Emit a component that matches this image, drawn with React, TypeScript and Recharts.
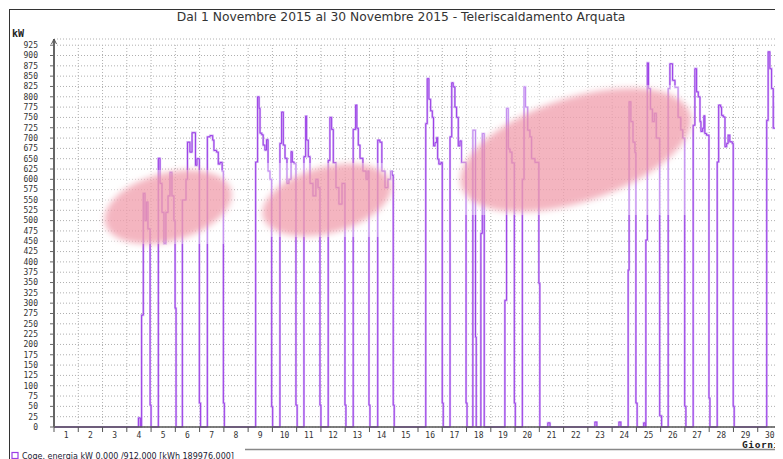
import React from 'react';
import { LineChart, Line, XAxis, YAxis, CartesianGrid, ReferenceLine, ReferenceDot } from 'recharts';

// [day offset since 1 Nov 00:00, kW] — step samples
const week1: [number, number][] = [
  [0, 0], [3.48, 22], [3.56, 0], [3.61, 271], [3.68, 566], [3.75, 500], [3.81, 545], [3.87, 480], [3.96, 53], [4.0, 0],
  [4.3, 651], [4.37, 590], [4.45, 520], [4.53, 445], [4.61, 520], [4.7, 560], [4.78, 617], [4.86, 560], [4.94, 500], [4.99, 288], [5.03, 0],
  [5.29, 550], [5.44, 600], [5.5, 690], [5.6, 666], [5.69, 713], [5.83, 634], [5.89, 650], [5.99, 58], [6.04, 0],
  [6.32, 703], [6.43, 706], [6.54, 695], [6.59, 670], [6.7, 666], [6.77, 637], [6.84, 641], [6.93, 620], [6.98, 58], [7.02, 0],
];
const week2: [number, number][] = [
  [8.31, 642], [8.39, 800], [8.45, 772], [8.49, 712], [8.56, 708], [8.62, 683], [8.69, 671], [8.76, 696], [8.82, 620], [8.9, 600], [8.97, 49], [9.01, 0],
  [9.31, 687], [9.38, 763], [9.45, 683], [9.52, 651], [9.6, 590], [9.68, 600], [9.77, 667], [9.82, 642], [9.89, 638], [9.97, 53], [10.02, 0],
  [10.3, 655], [10.37, 753], [10.41, 695], [10.48, 655], [10.55, 590], [10.67, 560], [10.79, 600], [10.88, 580], [10.96, 53], [11.0, 0],
  [11.3, 646], [11.37, 750], [11.44, 721], [11.51, 640], [11.62, 580], [11.74, 540], [11.87, 590], [11.99, 53], [12.03, 0],
  [12.33, 721], [12.43, 780], [12.48, 724], [12.54, 683], [12.61, 651], [12.73, 620], [12.86, 600], [12.94, 620], [12.98, 53], [13.02, 0],
  [13.34, 695], [13.43, 690], [13.51, 620], [13.64, 580], [13.76, 600], [13.87, 620], [13.93, 610], [13.98, 53], [14.02, 0],
];
const week3: [number, number][] = [
  [15.32, 735], [15.38, 844], [15.45, 794], [15.52, 766], [15.59, 750], [15.64, 681], [15.7, 689], [15.77, 701], [15.81, 649], [15.86, 637], [15.95, 641], [16.0, 58], [16.04, 0],
  [16.32, 703], [16.39, 834], [16.45, 824], [16.52, 775], [16.59, 750], [16.66, 681], [16.73, 693], [16.8, 641], [16.98, 58], [17.02, 0],
  [17.26, 719], [17.37, 218], [17.4, 0],
  [17.59, 469], [17.65, 711], [17.73, 0],
  [18.58, 307], [18.65, 772], [18.72, 674], [18.79, 666], [18.87, 640], [18.97, 58], [19.01, 0],
  [19.3, 600], [19.37, 824], [19.43, 775], [19.52, 719], [19.61, 703], [19.68, 650], [19.82, 641], [19.98, 348], [20.02, 0],
  [20.35, 10], [20.44, 0],
];
const week4: [number, number][] = [
  [22.29, 12], [22.37, 0], [23.28, 12], [23.36, 0],
  [23.66, 380], [23.7, 788], [23.77, 740], [23.86, 690], [23.94, 665], [23.98, 58], [24.03, 0],
  [24.3, 10], [24.36, 0],
  [24.39, 453], [24.45, 882], [24.5, 820], [24.58, 770], [24.66, 740], [24.74, 760], [24.82, 700], [24.96, 27], [25.04, 0],
  [25.31, 820], [25.38, 880], [25.49, 840], [25.59, 823], [25.72, 750], [25.83, 720], [25.91, 700], [25.99, 50], [26.04, 0],
  [26.34, 731], [26.41, 868], [26.48, 812], [26.55, 800], [26.62, 740], [26.66, 716], [26.73, 724], [26.78, 754], [26.82, 711], [26.89, 707], [26.99, 70], [27.03, 0],
  [27.33, 642], [27.39, 780], [27.47, 775], [27.51, 755], [27.58, 751], [27.65, 679], [27.72, 687], [27.78, 707], [27.85, 691], [27.95, 687], [27.99, 50], [28.03, 0],
];
const week5: [number, number][] = [
  [29.37, 743], [29.43, 909], [29.5, 868], [29.57, 820], [29.64, 724], [29.75, 784], [29.77, 820], [29.82, 768], [29.87, 711], [29.95, 707], [30.0, 700],
];

const dayBounds = [0, 1, 2, 3, 4, 5, 6, 7, 8, 9, 10, 11, 12, 13, 14, 15, 16, 17, 18, 19, 20, 21, 22, 23, 24, 25, 26, 27, 28, 29, 30];
const dayLabels = ['1', '2', '3', '4', '5', '6', '7', '8', '9', '10', '11', '12', '13', '14', '15', '16', '17', '18', '19', '20', '21', '22', '23', '24', '25', '26', '27', '28', '29', '30'];
const yTicks = [0, 25, 50, 75, 100, 125, 150, 175, 200, 225, 250, 275, 300, 325, 350, 375, 400, 425, 450, 475, 500, 525, 550, 575, 600, 625, 650, 675, 700, 725, 750, 775, 800, 825, 850, 875, 900, 925];

// pink highlight blobs: centre in data units
const highlights = [
  { x: 4.7, y: 533, rx: 65, ry: 34, rot: -15, hw: 64, hh: 37 },
  { x: 11.25, y: 550, rx: 66, ry: 33, rot: -15, hw: 65, hh: 37 },
  { x: 21.5, y: 671, rx: 120, ry: 52, rot: -18, hw: 114, hh: 65 },
];

const chartData = [...week1, ...week2, ...week3, ...week4, ...week5].map(([t, kw]) => ({ t, kw }));
const labelPos = dayBounds.slice(0, 30).map((d) => d + 0.5);

const mono = '"DejaVu Sans Mono", monospace';

const Arrow = (props: any) => {
  const { cx, cy } = props;
  if (cx == null || cy == null) return null;
  return <path d={`M${cx - 2.5},${cy + 5} L${cx},${cy} L${cx + 2.5},${cy + 5}`} fill="none" stroke="#555" strokeWidth={1} />;
};

const makeBlob = (h: (typeof highlights)[number], i: number) => (props: any) => {
  const { cx, cy } = props;
  if (cx == null || cy == null) return null;
  return (
    <g>
      <defs>
        <filter id={`blur${i}`} x="-30%" y="-50%" width="160%" height="200%">
          <feGaussianBlur stdDeviation="3" />
        </filter>
      </defs>
      <rect x={cx - h.hw} y={cy - h.hh} width={h.hw * 2} height={h.hh * 2} fill="#ffffff" fillOpacity={0.4} />
      <ellipse
        cx={cx}
        cy={cy}
        rx={h.rx}
        ry={h.ry}
        transform={`rotate(${h.rot} ${cx} ${cy})`}
        fill="#ee8899"
        fillOpacity={0.62}
        filter={`url(#blur${i})`}
      />
    </g>
  );
};

export default function App() {
  return (
    <div style={{ position: 'relative', width: 775, height: 451, background: '#fff', fontFamily: '"DejaVu Sans", sans-serif' }}>
      <LineChart width={775} height={451} data={chartData} margin={{ top: 31, right: 1, bottom: 12, left: 0 }}>
        <CartesianGrid vertical={false} stroke="#b0b0b0" strokeDasharray="1 2" />
        {dayBounds.slice(1).map((d) => (
          <ReferenceLine key={`v${d}`} segment={[{ x: d, y: 0 }, { x: d, y: 925 }]} stroke="#b0b0b0" strokeDasharray="1 2" />
        ))}
        <XAxis
          dataKey="t"
          type="number"
          domain={[0, 30]}
          ticks={dayBounds}
          tickFormatter={() => ''}
          height={4}
          tickSize={5}
          axisLine={{ stroke: '#555', strokeWidth: 1.5 }}
          tickLine={{ stroke: '#555' }}
          allowDataOverflow
        />
        <XAxis
          xAxisId="lab"
          dataKey="t"
          type="number"
          domain={[0, 30]}
          ticks={labelPos}
          tickFormatter={(v: number) => dayLabels[Math.floor(v)]}
          height={16}
          tickSize={0}
          tickMargin={1}
          axisLine={false}
          tickLine={false}
          interval={0}
          tick={{ fontSize: 8, fontFamily: mono, fill: '#333' }}
        />
        <YAxis
          type="number"
          domain={[0, 940]}
          ticks={yTicks}
          interval={0}
          width={46}
          tickSize={4}
          tickMargin={12}
          axisLine={{ stroke: '#666', strokeWidth: 2 }}
          tickLine={{ stroke: '#666' }}
          tick={{ fontSize: 8, fontFamily: mono, fill: '#333' }}
        />
        <Line type="stepAfter" dataKey="kw" stroke="#d3b3f4" strokeWidth={2.2} dot={false} isAnimationActive={false} />
        <Line type="stepAfter" dataKey="kw" stroke="#9b3fe6" strokeWidth={1} dot={false} isAnimationActive={false} />
        <ReferenceDot x={0} y={940} r={0} shape={Arrow} ifOverflow="visible" />
        {highlights.map((h, i) => (
          <ReferenceDot key={`h${i}`} x={h.x} y={h.y} r={0} shape={makeBlob(h, i)} ifOverflow="visible" zIndex={1000} />
        ))}
      </LineChart>
      <svg width={775} height={451} style={{ position: 'absolute', left: 0, top: 0, pointerEvents: 'none' }}>
        <line x1={1} y1={1.5} x2={775} y2={1.5} stroke="#333" strokeWidth={1} />
        <line x1={1.5} y1={1} x2={1.5} y2={451} stroke="#333" strokeWidth={1} />
        <line x1={237} y1={441.5} x2={775} y2={441.5} stroke="#888" strokeWidth={1.5} />
        <text x={393} y={13} textAnchor="middle" fontSize={12.3} fill="#333" fontFamily='"DejaVu Sans", sans-serif'>
          Dal 1 Novembre 2015 al 30 Novembre 2015 - Teleriscaldamento Arquata
        </text>
        <text x={4} y={29} fontSize={10} fontWeight="bold" fill="#222" fontFamily={mono}>kW</text>
        <text x={734} y={439.5} fontSize={9.5} fontWeight="bold" fill="#222" fontFamily={mono} letterSpacing={0.6}>Giorni</text>
        <rect x={4} y={444.5} width={6} height={6} fill="#fff" stroke="#9b3fe6" strokeWidth={1.2} />
        <text x={14} y={450.5} fontSize={8} fill="#223" fontFamily='"DejaVu Sans", sans-serif'>
          Coge. energia kW  0.000 /912.000  [kWh 189976.000]
        </text>
      </svg>
    </div>
  );
}
